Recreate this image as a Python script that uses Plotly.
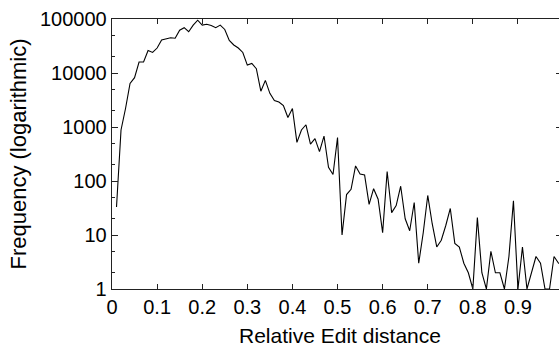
import plotly.graph_objects as go

# Relative edit distance (bin positions)
distance = [0.01, 0.02, 0.03, 0.04, 0.05, 0.06, 0.07, 0.08, 0.09, 0.10,
            0.11, 0.12, 0.13, 0.14, 0.15, 0.16, 0.17, 0.18, 0.19, 0.20,
            0.21, 0.22, 0.23, 0.24, 0.25, 0.26, 0.27, 0.28, 0.29, 0.30,
            0.31, 0.32, 0.33, 0.34, 0.35, 0.36, 0.37, 0.38, 0.39, 0.40,
            0.41, 0.42, 0.43, 0.44, 0.45, 0.46, 0.47, 0.48, 0.49, 0.50,
            0.51, 0.52, 0.53, 0.54, 0.55, 0.56, 0.57, 0.58, 0.59, 0.60,
            0.61, 0.62, 0.63, 0.64, 0.65, 0.66, 0.67, 0.68, 0.69, 0.70,
            0.71, 0.72, 0.73, 0.74, 0.75, 0.76, 0.77, 0.78, 0.79, 0.80,
            0.81, 0.82, 0.83, 0.84, 0.85, 0.86, 0.87, 0.88, 0.89, 0.90,
            0.91, 0.92, 0.93, 0.94, 0.95, 0.96, 0.97, 0.98, 0.99, 1.00]

# Frequency per bin
frequency = [33, 880, 2200, 6400, 8200, 16000, 16000, 26000, 24000, 29000,
             41000, 43000, 45000, 44000, 62000, 69000, 58000, 77000, 95000, 77000,
             80000, 76000, 69000, 77000, 64000, 40000, 33000, 29000, 24000, 14000,
             15000, 12000, 4600, 7300, 4200, 3100, 2900, 2500, 1500, 2200,
             520, 880, 1100, 480, 610, 350, 680, 180, 132, 640,
             10, 56, 70, 190, 135, 130, 37, 72, 46, 11,
             150, 26, 35, 80, 20, 12, 40, 3, 11, 54,
             16, 6, 8, 15, 31, 7, 6, 3, 2, 1,
             21, 2, 1, 5, 2, 2, 1, 4, 43, 1,
             6, 1, 2, 4, 3, 1, 1, 4, 3, 3]

x_ticks = [0, 0.1, 0.2, 0.3, 0.4, 0.5, 0.6, 0.7, 0.8, 0.9, 1.0]
x_tick_text = ["0", "0.1", "0.2", "0.3", "0.4", "0.5", "0.6", "0.7", "0.8", "0.9", "1"]
y_ticks = [1, 10, 100, 1000, 10000, 100000]
y_tick_text = ["1", "10", "100", "1000", "10000", "100000"]
x_title = "Relative Edit distance"
y_title = "Frequency (logarithmic)"

FONT = "Liberation Sans, Arial, Helvetica, sans-serif"

fig = go.Figure()
fig.add_trace(go.Scatter(x=distance, y=frequency, mode="lines",
                         line=dict(color="black", width=1.1),
                         showlegend=False, hoverinfo="skip"))
# invisible trace to activate the right-side tick axis
fig.add_trace(go.Scatter(x=[distance[0]], y=[frequency[0]], yaxis="y2",
                         mode="markers", marker=dict(opacity=0),
                         showlegend=False, hoverinfo="skip"))

fig.update_layout(
    width=559, height=348,
    margin=dict(l=112, r=0, t=19, b=59),
    paper_bgcolor="white", plot_bgcolor="white",
    font=dict(family=FONT, size=20, color="black"),
    xaxis=dict(
        range=[0, 0.991], tickvals=x_ticks[:-1], ticktext=x_tick_text[:-1],
        ticks="inside", ticklen=5, tickwidth=1, tickcolor="#222",
        showline=True, linecolor="#222", linewidth=1.3, mirror="ticks",
        showgrid=False, zeroline=False,
        tickfont=dict(size=20),
    ),
    yaxis=dict(
        type="log", range=[0, 5], tickvals=y_ticks, ticktext=y_tick_text,
        ticks="inside", ticklen=6, tickwidth=1, tickcolor="#222",
        showline=True, linecolor="#222", linewidth=1.3,
        showgrid=False, zeroline=False,
        minor=dict(ticks="inside", ticklen=3, dtick="D2", tickcolor="#222", showgrid=False),
        title=dict(text=y_title, font=dict(size=22), standoff=7),
        tickfont=dict(size=20),
    ),
    yaxis2=dict(
        type="log", range=[0, 5], overlaying="y", side="right",
        tickvals=y_ticks, showticklabels=False,
        ticks="inside", ticklen=3, tickwidth=1, tickcolor="#222",
        showline=False, showgrid=False, zeroline=False,
    ),
    annotations=[
        dict(x=1.0, xref="x", y=0, yref="paper", yanchor="top",
             yshift=-4, text="1", showarrow=False,
             font=dict(family=FONT, size=20, color="black")),
        dict(x=0.51, xref="paper", y=0, yref="paper", yanchor="middle",
             yshift=-46, text=x_title, showarrow=False,
             font=dict(family=FONT, size=21, color="black")),
    ],
)

fig.write_html("out.html",
               config={"displayModeBar": False, "staticPlot": True},
               post_script="document.body.style.margin='0px';"
                           "document.body.style.overflow='hidden';")
